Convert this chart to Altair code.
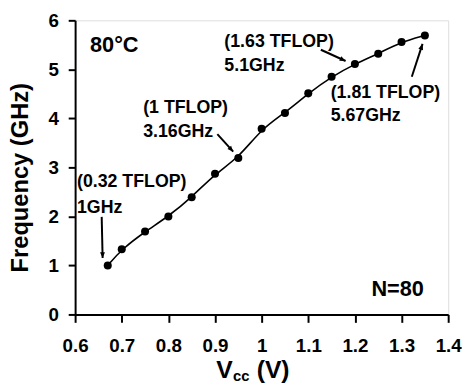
import math
import altair as alt
import pandas as pd

# ---- data ----
vcc = [0.67, 0.70, 0.75, 0.80, 0.85, 0.90, 0.95, 1.00, 1.05, 1.10, 1.15, 1.20, 1.25, 1.30, 1.35]
freq = [1.00, 1.33, 1.69, 2.00, 2.39, 2.87, 3.19, 3.79, 4.11, 4.51, 4.85, 5.11, 5.32, 5.56, 5.69]

label_text = ["(0.32 TFLOP)", "1GHz", "(1 TFLOP)", "3.16GHz",
              "(1.63 TFLOP)", "5.1GHz", "(1.81 TFLOP)", "5.67GHz"]
label_x = [0.604, 0.604, 0.746, 0.746, 0.920, 0.920, 1.148, 1.148]
label_y = [2.70, 2.165, 4.21, 3.725, 5.557, 5.074, 4.51, 4.047]

arrow_x0 = [0.657, 0.905, 1.127, 1.322]
arrow_y0 = [1.99, 3.68, 5.40, 4.85]
arrow_x1 = [0.659, 0.939, 1.180, 1.345]
arrow_y1 = [1.15, 3.32, 5.17, 5.52]

corner_text = ["80°C", "N=80"]
corner_x = [0.632, 1.348]
corner_y = [5.50, 0.52]
corner_align = ["left", "right"]

x_ticks = [round(0.6 + 0.05 * i, 2) for i in range(17)]
y_ticks = [round(0.5 * i, 1) for i in range(13)]

W, H = 378, 298
XDOM, YDOM = [0.6, 1.4], [0, 6]
FONT = "Liberation Sans"

pts = pd.DataFrame({"vcc": vcc, "freq": freq})
labels = pd.DataFrame({"t": label_text, "x": label_x, "y": label_y})
arrows = pd.DataFrame({"x0": arrow_x0, "y0": arrow_y0, "x1": arrow_x1, "y1": arrow_y1})
kx = W / (XDOM[1] - XDOM[0])
ky = H / (YDOM[1] - YDOM[0])
arrows["angle"] = [
    (math.degrees(math.atan2((r.x1 - r.x0) * kx, (r.y1 - r.y0) * ky)) + 360) % 360
    for r in arrows.itertuples()
]
corners = pd.DataFrame({"t": corner_text, "x": corner_x, "y": corner_y, "a": corner_align})

xs = alt.Scale(domain=XDOM, nice=False, zero=False)
ys = alt.Scale(domain=YDOM, nice=False)

x_axis = alt.Axis(
    values=x_ticks,
    labelExpr="abs(datum.value*10 - round(datum.value*10)) < 0.001 ? format(datum.value, '~g') : ''",
    title=None, grid=False, labelFont=FONT, labelFontWeight="bold", labelFontSize=19,
    labelColor="black", domainColor="black", domainWidth=2, tickColor="black",
    tickWidth=2, tickSize=8, labelPadding=15, labelFlush=False, labelOverlap=False,
)
y_axis = alt.Axis(
    values=y_ticks,
    labelExpr="abs(datum.value - round(datum.value)) < 0.001 ? format(datum.value, '~g') : ''",
    title="Frequency (GHz)", titleFont=FONT, titleFontWeight="bold", titleFontSize=24,
    titleColor="black", titleX=-48, titleY=159, titleAngle=270, titleBaseline="alphabetic",
    titleAlign="center",
    grid=False, labelFont=FONT, labelFontWeight="bold", labelFontSize=19,
    labelColor="black", domainColor="black", domainWidth=2, tickColor="black",
    tickWidth=2, tickSize=7, labelPadding=10, labelFlush=False, labelOverlap=False,
)

line = alt.Chart(pts).mark_line(color="black", strokeWidth=1.6, interpolate="basis").encode(
    x=alt.X("vcc:Q", scale=xs, axis=x_axis),
    y=alt.Y("freq:Q", scale=ys, axis=y_axis),
)
dots = alt.Chart(pts).mark_circle(color="black", size=66, opacity=1).encode(
    x=alt.X("vcc:Q", scale=xs), y=alt.Y("freq:Q", scale=ys)
)
ann = alt.Chart(labels).mark_text(
    font=FONT, fontWeight="bold", fontSize=18, align="left", baseline="middle", color="black"
).encode(x=alt.X("x:Q", scale=xs), y=alt.Y("y:Q", scale=ys), text="t:N")

shafts = alt.Chart(arrows).mark_rule(color="black", strokeWidth=2).encode(
    x=alt.X("x0:Q", scale=xs), y=alt.Y("y0:Q", scale=ys), x2="x1:Q", y2="y1:Q"
)
heads = alt.Chart(arrows).mark_point(
    shape="M0,0L-0.42,1L0.42,1Z", filled=True, color="black", size=140, opacity=1
).encode(
    x=alt.X("x1:Q", scale=xs), y=alt.Y("y1:Q", scale=ys), angle=alt.Angle("angle:Q", scale=None)
)

corner_left = alt.Chart(corners[corners.a == "left"]).mark_text(
    font=FONT, fontWeight="bold", fontSize=22, align="left", baseline="middle", color="black"
).encode(x=alt.X("x:Q", scale=xs), y=alt.Y("y:Q", scale=ys), text="t:N")
corner_right = alt.Chart(corners[corners.a == "right"]).mark_text(
    font=FONT, fontWeight="bold", fontSize=22, align="right", baseline="middle", color="black"
).encode(x=alt.X("x:Q", scale=xs), y=alt.Y("y:Q", scale=ys), text="t:N")

one = alt.Data(values=[{"k": 1}])
t_v = alt.Chart(one).mark_text(text="V", font=FONT, fontWeight="bold", fontSize=25,
                               align="left", baseline="alphabetic", color="black").encode(
    x=alt.value(143), y=alt.value(362))
t_cc = alt.Chart(one).mark_text(text="cc", font=FONT, fontWeight="bold", fontSize=15,
                                align="left", baseline="alphabetic", color="black").encode(
    x=alt.value(160), y=alt.value(365))
t_u = alt.Chart(one).mark_text(text="(V)", font=FONT, fontWeight="bold", fontSize=25,
                               align="left", baseline="alphabetic", color="black").encode(
    x=alt.value(184), y=alt.value(362))

chart = alt.layer(
    line, dots, shafts, heads, ann, corner_left, corner_right, t_v, t_cc, t_u
).properties(
    width=W, height=H,
    autosize=alt.AutoSizeParams(type="none"),
    padding={"left": 68, "top": 10, "right": 14, "bottom": 69},
).configure_view(stroke="black", strokeWidth=1.5).configure(background="white")

chart.save("out.html", embed_options={"renderer": "svg", "actions": False})
